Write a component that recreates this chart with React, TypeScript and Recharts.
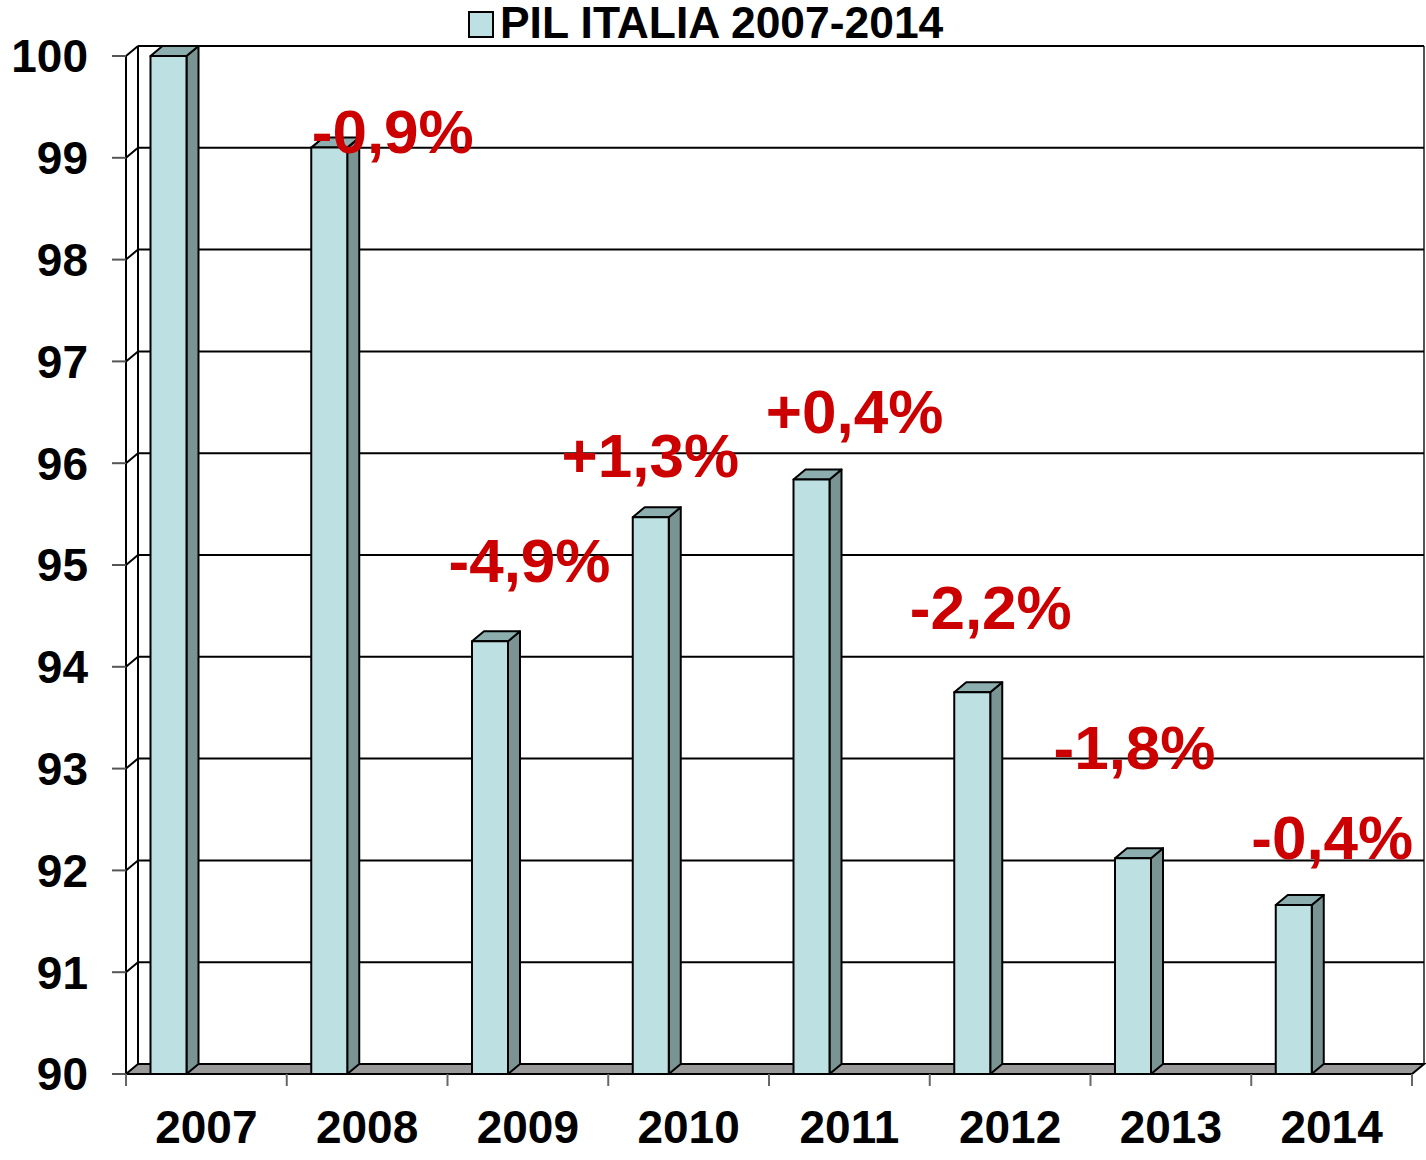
import React from "react";
import {
  BarChart,
  Bar,
  XAxis,
  YAxis,
  CartesianGrid,
  Legend,
  LabelList
} from "recharts";

// data
const years = ["2007", "2008", "2009", "2010", "2011", "2012", "2013", "2014"];
const pil = [100, 99.1, 94.25, 95.47, 95.84, 93.75, 92.12, 91.66];
const changes = ["", "-0,9%", "-4,9%", "+1,3%", "+0,4%", "-2,2%", "-1,8%", "-0,4%"];
// where each change note sits (value on the y axis of its baseline)
const changeAt = [0, 99.05, 94.83, 95.86, 96.3, 94.37, 93.0, 92.11];
const yTicks = [90, 91, 92, 93, 94, 95, 96, 97, 98, 99, 100];

// layout / style
const W = 1426;
const H = 1160;
const M = { top: 56, right: 14, bottom: 0, left: 0 };
const DX = 12;
const DY = 10;
const BAR_W = 36;
const BAR_SHIFT = 37.5;
const noteDx = [0, 26, 2, -38, 5.5, -19, -36, 1];

const FRONT = "#bde1e2";
const TOP = "#8daeae";
const SIDE = "#7a9494";
const RED = "#cc0000";
const FONT = "'Liberation Sans', Arial, sans-serif";

const data = years.map((y, i) => ({ year: y, pil: pil[i], note: changes[i], at: changeAt[i] }));

const plotBottom = H - 86;
const bandW = (W - 126 - M.right) / years.length;

function Bar3D(props: any) {
  const { x, y, width, height } = props;
  const fx = x + width / 2 - BAR_W / 2 - BAR_SHIFT;
  const w = BAR_W;
  const h = height;
  return (
    <g stroke="#000" strokeWidth={2} strokeLinejoin="round">
      <polygon
        points={`${fx + w},${y} ${fx + w + DX},${y - DY} ${fx + w + DX},${y + h - DY} ${fx + w},${y + h}`}
        fill={SIDE}
      />
      <polygon
        points={`${fx},${y} ${fx + DX},${y - DY} ${fx + w + DX},${y - DY} ${fx + w},${y}`}
        fill={TOP}
      />
      <rect x={fx} y={y} width={w} height={h} fill={FRONT} />
    </g>
  );
}

function GridLine(props: any) {
  const { x1, x2, y1 } = props;
  const y = y1;
  if (Math.abs(y - plotBottom) < 1) {
    return (
      <g>
        <line x1={x1 + DX} y1={M.top - DY} x2={x1 + DX} y2={y - DY} stroke="#000" strokeWidth={2} />
        <line x1={x2 + DX} y1={M.top - DY} x2={x2 + DX} y2={y - DY} stroke="#555" strokeWidth={2} />
        <polygon
          points={`${x1},${y} ${x2},${y} ${x2 + DX},${y - DY} ${x1 + DX},${y - DY}`}
          fill="#999999"
          stroke="#000"
          strokeWidth={2}
        />
      </g>
    );
  }
  return (
    <g stroke="#000" strokeWidth={2}>
      <line x1={x1} y1={y} x2={x1 + DX} y2={y - DY} />
      <line x1={x1 + DX} y1={y - DY} x2={x2 + DX} y2={y - DY} />
    </g>
  );
}

function YearTick(props: any) {
  const { x, y, payload, index } = props;
  const axisY = y - 36;
  const left = x - bandW / 2;
  return (
    <g>
      <line x1={left} y1={axisY} x2={left} y2={axisY + 12} stroke="#666" strokeWidth={2} />
      {index === years.length - 1 && (
        <line x1={x + bandW / 2} y1={axisY} x2={x + bandW / 2} y2={axisY + 12} stroke="#666" strokeWidth={2} />
      )}
      <text
        x={x}
        y={y}
        dy="0.71em"
        textAnchor="middle"
        fontFamily={FONT}
        fontWeight="bold"
        fontSize={46}
        fill="#000"
      >
        {payload.value}
      </text>
    </g>
  );
}

function ChangeNote(props: any) {
  const { x, y, width, height, value, index } = props;
  if (!value) return null;
  const v = pil[index];
  const bottom = y + height;
  const perUnit = height / (v - 90);
  const ny = bottom - (changeAt[index] - 90) * perUnit;
  return (
    <text
      x={x + width / 2 + noteDx[index]}
      y={ny}
      textAnchor="middle"
      fontFamily={FONT}
      fontWeight="bold"
      fontSize={62}
      fill={RED}
    >
      {value}
    </text>
  );
}

function TitleLegend() {
  return (
    <svg width={W} height={46} style={{ display: "block", overflow: "visible" }}>
      <rect x={469} y={12} width={24} height={25} fill={FRONT} stroke="#000" strokeWidth={2} />
      <text x={500} y={38} fontFamily={FONT} fontWeight="bold" fontSize={44.4} fill="#000">
        PIL ITALIA 2007-2014
      </text>
    </svg>
  );
}

export default function App() {
  return (
    <div style={{ position: "absolute", left: 0, top: 0, width: W, height: H, background: "#fff" }}>
      <BarChart width={W} height={H} data={data} margin={M} barSize={BAR_W}>
        <CartesianGrid horizontal={(p: any) => <GridLine {...p} />} vertical={false} />
        <XAxis
          dataKey="year"
          height={86}
          tickLine={false}
          tickSize={12}
          tickMargin={24}
          axisLine={{ stroke: "#000", strokeWidth: 2 }}
          tick={(p: any) => <YearTick {...p} />}
          interval={0}
        />
        <YAxis
          domain={[90, 100]}
          ticks={yTicks}
          width={126}
          tickSize={14}
          tickMargin={24}
          interval={0}
          axisLine={{ stroke: "#000", strokeWidth: 2 }}
          tickLine={{ stroke: "#555", strokeWidth: 2 }}
          tick={{ fill: "#000", fontSize: 46, fontWeight: "bold", fontFamily: FONT }}
        />
        <Legend
          layout="horizontal"
          verticalAlign="middle"
          align="center"
          wrapperStyle={{ top: 0, left: 0, width: W }}
          content={() => <TitleLegend />}
        />
        <Bar dataKey="pil" shape={(p: any) => <Bar3D {...p} />} isAnimationActive={false}>
          <LabelList dataKey="note" content={(p: any) => <ChangeNote {...p} />} />
        </Bar>
      </BarChart>
    </div>
  );
}
